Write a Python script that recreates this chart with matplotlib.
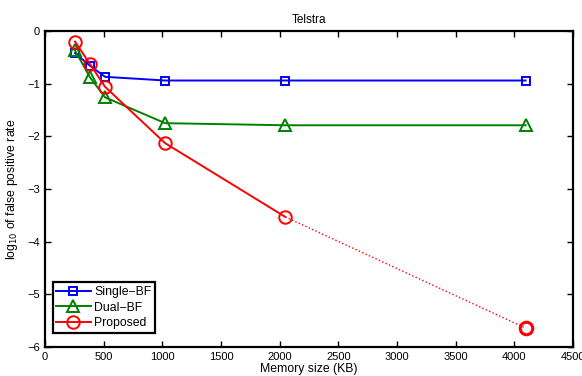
import matplotlib
matplotlib.use("Agg")
import matplotlib.pyplot as plt

# Datos
memory_kb = [256, 384, 512, 1024, 2048, 4096]
single_bf = [-0.42, -0.66, -0.87, -0.94, -0.94, -0.94]
dual_bf = [-0.37, -0.88, -1.26, -1.75, -1.79, -1.79]
proposed = [-0.20, -0.63, -1.06, -2.13, -3.53, -5.64]

plt.rcParams['font.family'] = ['Liberation Sans', 'DejaVu Sans']
plt.rcParams['font.size'] = 8.8

fig = plt.figure(figsize=(5.82, 3.76), dpi=100)
ax = fig.add_axes([45 / 582, 1 - 347 / 376, 528 / 582, 316 / 376])

ax.plot(memory_kb, single_bf, color='blue', lw=1.4, marker='s', ms=6,
        mfc='none', mew=1.4, label='Single\u2212BF')
ax.plot(memory_kb, dual_bf, color='green', lw=1.4, marker='^', ms=8,
        mfc='none', mew=1.4, label='Dual\u2212BF')
# Proposed: linea solida hasta 2048 y punteada hasta 4096
ax.plot(memory_kb[:-1], proposed[:-1], color='red', lw=1.4, marker='o', ms=9,
        mfc='none', mew=1.4, label='Proposed')
ax.plot(memory_kb[-2:], proposed[-2:], color='red', lw=1.0, ls=':')
ax.plot(memory_kb[-1:], proposed[-1:], color='red', ls='none', marker='o',
        ms=9, mfc='none', mew=2.2)

ax.set_xlim(0, 4500)
ax.set_ylim(-6, 0)
ax.set_xticks(range(0, 4501, 500))
ax.set_yticks(range(-6, 1))
ax.tick_params(direction='in', top=True, right=True, length=4, width=1,
               labelsize=8)
for s in ax.spines.values():
    s.set_linewidth(1.6)

ax.set_title('Telstra', fontsize=8.5, pad=6)
ax.set_xlabel('Memory size (KB)', labelpad=1)
ax.set_ylabel(r'log$_{10}$ of false positive rate', labelpad=5)

leg = ax.legend(loc='lower left', fancybox=False, edgecolor='black',
                framealpha=1, borderpad=0.3, handlelength=2.8,
                handletextpad=0.3, labelspacing=0.3,
                bbox_to_anchor=(0.003, 0.025))
leg.get_frame().set_linewidth(1.6)

fig.savefig('out.png', dpi=100)
